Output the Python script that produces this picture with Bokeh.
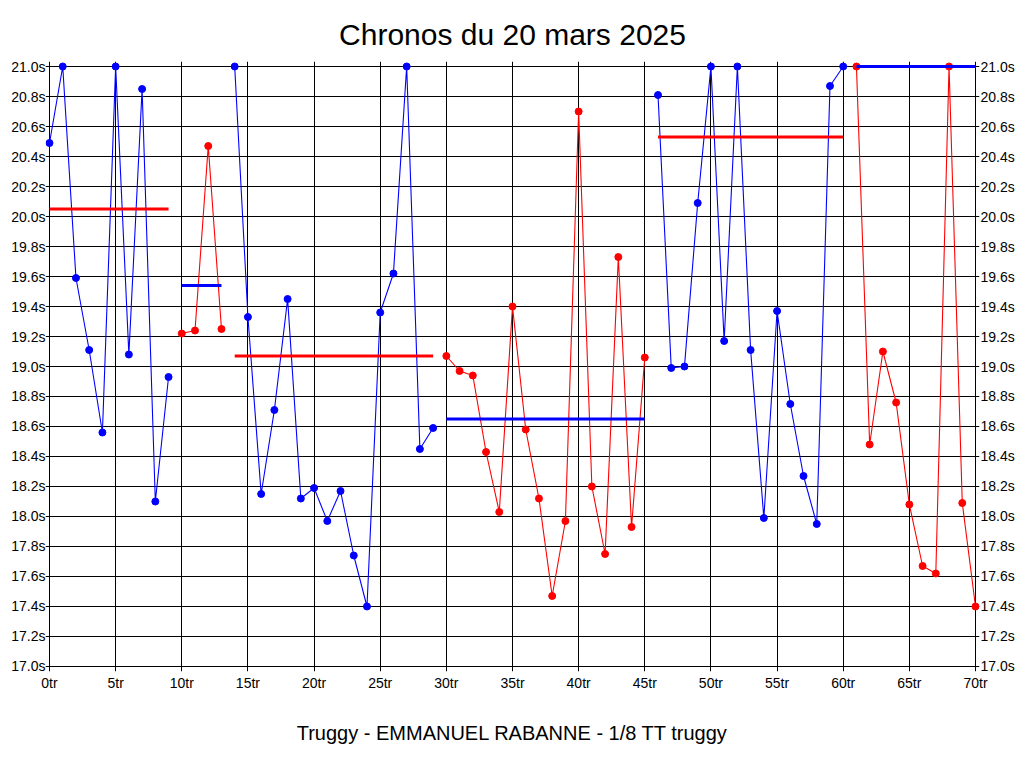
from bokeh.plotting import figure
from bokeh.models import Range1d, LinearAxis, FixedTicker, PrintfTickFormatter, Title
from bokeh.embed import file_html
from bokeh.resources import INLINE

# ---- data ----
title_text = "Chronos du 20 mars 2025"
subtitle_text = "Truggy - EMMANUEL RABANNE - 1/8 TT truggy"

x_ticks = [0, 5, 10, 15, 20, 25, 30, 35, 40, 45, 50, 55, 60, 65, 70]
y_ticks = [17.0, 17.2, 17.4, 17.6, 17.8, 18.0, 18.2, 18.4, 18.6, 18.8, 19.0,
           19.2, 19.4, 19.6, 19.8, 20.0, 20.2, 20.4, 20.6, 20.8, 21.0]

session_laps = [
    [0, 1, 2, 3, 4, 5, 6, 7, 8, 9],
    [10, 11, 12, 13],
    [14, 15, 16, 17, 18, 19, 20, 21, 22, 23, 24, 25, 26, 27, 28, 29],
    [30, 31, 32, 33, 34, 35, 36, 37, 38, 39, 40, 41, 42, 43, 44, 45],
    [46, 47, 48, 49, 50, 51, 52, 53, 54, 55, 56, 57, 58, 59, 60],
    [61, 62, 63, 64, 65, 66, 67, 68, 69, 70],
]
session_a = [20.49, 21.0, 19.59, 19.11, 18.56, 21.0, 19.08, 20.85, 18.10, 18.93]
session_b = [19.22, 19.24, 20.47, 19.25]
session_c = [21.0, 19.33, 18.15, 18.71, 19.45, 18.12, 18.19, 17.97, 18.17, 17.74,
             17.40, 19.36, 19.62, 21.0, 18.45, 18.59]
session_d = [19.07, 18.97, 18.94, 18.43, 18.03, 19.40, 18.58, 18.12, 17.47, 17.97,
             20.70, 18.20, 17.75, 19.73, 17.93, 19.06]
session_e = [20.81, 18.99, 19.00, 20.09, 21.0, 19.17, 21.0, 19.11, 17.99, 19.37,
             18.75, 18.27, 17.95, 20.87, 21.0]
session_f = [21.0, 18.48, 19.10, 18.76, 18.08, 17.67, 17.62, 21.0, 18.09, 17.40]
session_times = [session_a, session_b, session_c, session_d, session_e, session_f]
session_avg = [20.05, 19.54, 19.07, 18.65, 20.53, 21.0]

series_colors = ["#0000FF", "#FF0000", "#0000FF", "#FF0000", "#0000FF", "#FF0000"]
avg_colors = ["#FF0000", "#0000FF", "#FF0000", "#0000FF", "#FF0000", "#0000FF"]

# ---- figure ----
XPAD = 0.3024   # ~4px
YPAD = 0.0334   # ~5px

p = figure(width=1008, height=752, output_backend="svg", toolbar_location=None,
           x_range=Range1d(x_ticks[0] - XPAD, x_ticks[-1] + XPAD),
           y_range=Range1d(y_ticks[0] - YPAD, y_ticks[-1] + YPAD),
           min_border_left=45, min_border_right=29, min_border_top=61,
           min_border_bottom=81)
p.frame_width = 934
p.frame_height = 610
p.background_fill_color = "white"
p.border_fill_color = "white"
p.outline_line_color = None

p.title.text = title_text
p.title.align = "center"
p.title.text_font = "Liberation Sans"
p.title.text_font_size = "30px"
p.title.text_font_style = "normal"
p.title.text_color = "black"
p.title.standoff = 22

sub = Title(text=subtitle_text, align="center", text_font="Liberation Sans",
            text_font_size="20px", text_font_style="normal", text_color="black",
            standoff=53)
p.add_layout(sub, "below")

def style_axis(ax):
    ax.axis_line_color = None
    ax.major_tick_line_color = None
    ax.minor_tick_line_color = None
    ax.major_label_text_font = "Liberation Sans"
    ax.major_label_text_font_size = "14px"
    ax.major_label_text_color = "black"

p.xaxis.ticker = FixedTicker(ticks=x_ticks)
p.xaxis.formatter = PrintfTickFormatter(format="%dtr")
p.xaxis.major_label_standoff = -3
style_axis(p.xaxis[0])

p.yaxis.ticker = FixedTicker(ticks=y_ticks)
p.yaxis.formatter = PrintfTickFormatter(format="%.1fs")
p.yaxis.major_label_standoff = -6
style_axis(p.yaxis[0])

ry = LinearAxis(ticker=FixedTicker(ticks=y_ticks),
                formatter=PrintfTickFormatter(format="%.1fs"),
                major_label_standoff=-5)
style_axis(ry)
p.add_layout(ry, "right")

p.xgrid.ticker = FixedTicker(ticks=x_ticks)
p.ygrid.ticker = FixedTicker(ticks=y_ticks)
p.xgrid.bounds = (y_ticks[0], y_ticks[-1])
p.ygrid.bounds = (x_ticks[0], x_ticks[-1])
for g in (p.xgrid[0], p.ygrid[0]):
    g.grid_line_color = "black"
    g.grid_line_alpha = 1.0
    g.grid_line_width = 1

for laps, times, avg, c, ac in zip(session_laps, session_times, session_avg,
                                   series_colors, avg_colors):
    p.line(laps, times, line_color=c, line_width=1.1)
    p.scatter(laps, times, marker="circle", size=7, fill_color=c, line_color=c)
    p.line([laps[0], laps[-1]], [avg, avg], line_color=ac, line_width=3)

open("out.html", "w").write(file_html(p, INLINE))
